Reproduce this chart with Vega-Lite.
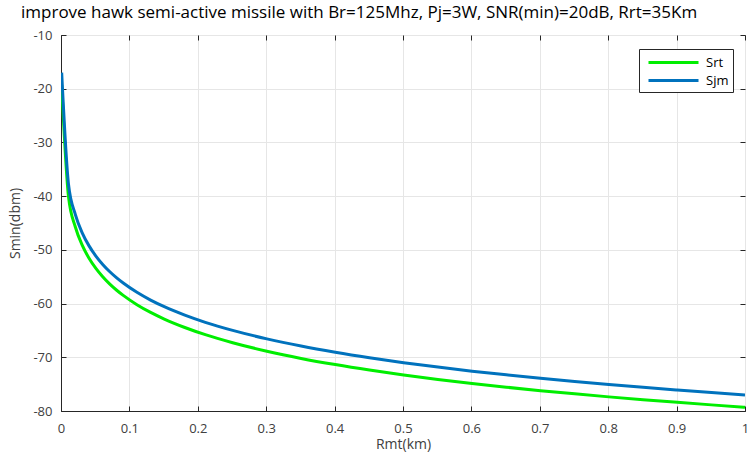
{
  "$schema": "https://vega.github.io/schema/vega-lite/v6.json",
  "width": 684,
  "height": 376,
  "autosize": {"type": "none"},
  "padding": {"left": 61, "top": 35, "right": 2, "bottom": 42},
  "background": "white",
  "title": {
    "text": "improve hawk semi-active missile with Br=125Mhz, Pj=3W, SNR(min)=20dB, Rrt=35Km",
    "anchor": "start",
    "frame": "group",
    "dx": -40,
    "offset": 7,
    "font": "Open Sans",
    "fontSize": 17,
    "fontWeight": "normal",
    "color": "#000000"
  },
  "config": {
    "view": {"stroke": "#262626", "strokeWidth": 1},
    "font": "Open Sans"
  },
  "data": {
    "values": [
      {"x": 0.001, "s": "Srt", "y": -19.3},
      {"x": 0.011, "s": "Srt", "y": -40.13},
      {"x": 0.021, "s": "Srt", "y": -45.74},
      {"x": 0.031, "s": "Srt", "y": -49.13},
      {"x": 0.041, "s": "Srt", "y": -51.56},
      {"x": 0.051, "s": "Srt", "y": -53.45},
      {"x": 0.061, "s": "Srt", "y": -55.01},
      {"x": 0.071, "s": "Srt", "y": -56.33},
      {"x": 0.081, "s": "Srt", "y": -57.47},
      {"x": 0.091, "s": "Srt", "y": -58.48},
      {"x": 0.111, "s": "Srt", "y": -60.21},
      {"x": 0.131, "s": "Srt", "y": -61.65},
      {"x": 0.151, "s": "Srt", "y": -62.88},
      {"x": 0.181, "s": "Srt", "y": -64.45},
      {"x": 0.211, "s": "Srt", "y": -65.79},
      {"x": 0.251, "s": "Srt", "y": -67.29},
      {"x": 0.301, "s": "Srt", "y": -68.87},
      {"x": 0.351, "s": "Srt", "y": -70.21},
      {"x": 0.401, "s": "Srt", "y": -71.36},
      {"x": 0.451, "s": "Srt", "y": -72.38},
      {"x": 0.501, "s": "Srt", "y": -73.30},
      {"x": 0.551, "s": "Srt", "y": -74.12},
      {"x": 0.601, "s": "Srt", "y": -74.88},
      {"x": 0.651, "s": "Srt", "y": -75.57},
      {"x": 0.701, "s": "Srt", "y": -76.21},
      {"x": 0.751, "s": "Srt", "y": -76.81},
      {"x": 0.801, "s": "Srt", "y": -77.37},
      {"x": 0.851, "s": "Srt", "y": -77.90},
      {"x": 0.901, "s": "Srt", "y": -78.39},
      {"x": 0.951, "s": "Srt", "y": -78.86},
      {"x": 1.0, "s": "Srt", "y": -79.3},
      {"x": 0.001, "s": "Sjm", "y": -17.0},
      {"x": 0.011, "s": "Sjm", "y": -37.83},
      {"x": 0.021, "s": "Sjm", "y": -43.44},
      {"x": 0.031, "s": "Sjm", "y": -46.83},
      {"x": 0.041, "s": "Sjm", "y": -49.26},
      {"x": 0.051, "s": "Sjm", "y": -51.15},
      {"x": 0.061, "s": "Sjm", "y": -52.71},
      {"x": 0.071, "s": "Sjm", "y": -54.03},
      {"x": 0.081, "s": "Sjm", "y": -55.17},
      {"x": 0.091, "s": "Sjm", "y": -56.18},
      {"x": 0.111, "s": "Sjm", "y": -57.91},
      {"x": 0.131, "s": "Sjm", "y": -59.35},
      {"x": 0.151, "s": "Sjm", "y": -60.58},
      {"x": 0.181, "s": "Sjm", "y": -62.15},
      {"x": 0.211, "s": "Sjm", "y": -63.49},
      {"x": 0.251, "s": "Sjm", "y": -64.99},
      {"x": 0.301, "s": "Sjm", "y": -66.57},
      {"x": 0.351, "s": "Sjm", "y": -67.91},
      {"x": 0.401, "s": "Sjm", "y": -69.06},
      {"x": 0.451, "s": "Sjm", "y": -70.08},
      {"x": 0.501, "s": "Sjm", "y": -71.00},
      {"x": 0.551, "s": "Sjm", "y": -71.82},
      {"x": 0.601, "s": "Sjm", "y": -72.58},
      {"x": 0.651, "s": "Sjm", "y": -73.27},
      {"x": 0.701, "s": "Sjm", "y": -73.91},
      {"x": 0.751, "s": "Sjm", "y": -74.51},
      {"x": 0.801, "s": "Sjm", "y": -75.07},
      {"x": 0.851, "s": "Sjm", "y": -75.60},
      {"x": 0.901, "s": "Sjm", "y": -76.09},
      {"x": 0.951, "s": "Sjm", "y": -76.56},
      {"x": 1.0, "s": "Sjm", "y": -77.0}
    ]
  },
  "layer": [
    {
      "mark": {"type": "line", "strokeWidth": 3, "interpolate": "monotone", "clip": true},
      "encoding": {
        "x": {
          "field": "x",
          "type": "quantitative",
          "scale": {"domain": [0, 1], "nice": false, "zero": false},
          "axis": {
            "title": "Rmt(km)",
            "values": [0, 0.1, 0.2, 0.3, 0.4, 0.5, 0.6, 0.7, 0.8, 0.9, 1],
            "labelExpr": "'' + datum.value",
            "tickSize": -5,
            "tickColor": "#262626",
            "domainColor": "#262626",
            "labelPadding": 16,
            "labelFontSize": 13,
            "labelColor": "#404040",
            "labelFont": "Open Sans",
            "titleFont": "Open Sans",
            "titleFontSize": 14,
            "titleFontWeight": "normal",
            "titleColor": "#404040",
            "titlePadding": 2,
            "gridColor": "#e6e6e6",
            "labelFlush": false,
            "labelOverlap": false
          }
        },
        "y": {
          "field": "y",
          "type": "quantitative",
          "scale": {"domain": [-80, -10], "nice": false, "zero": false},
          "axis": {
            "title": "Smin(dbm)",
            "values": [-80, -70, -60, -50, -40, -30, -20, -10],
            "labelExpr": "'' + datum.value",
            "tickSize": -5,
            "tickColor": "#262626",
            "domainColor": "#262626",
            "labelPadding": 14,
            "labelFontSize": 13,
            "labelColor": "#404040",
            "labelFont": "Open Sans",
            "titleFont": "Open Sans",
            "titleFontSize": 14,
            "titleFontWeight": "normal",
            "titleColor": "#404040",
            "titlePadding": 10,
            "gridColor": "#e6e6e6",
            "labelFlush": false,
            "labelOverlap": false
          }
        },
        "color": {
          "field": "s",
          "type": "nominal",
          "scale": {"domain": ["Srt", "Sjm"], "range": ["#00ee00", "#0072bd"]},
          "legend": {
            "title": null,
            "orient": "none",
            "legendX": 578,
            "legendY": 14,
            "symbolType": "M-0.5,0H5.75",
            "symbolStrokeWidth": 3,
            "symbolSize": 256,
            "labelFont": "Open Sans",
            "labelFontSize": 13,
            "labelColor": "#000000",
            "strokeColor": "#262626",
            "fillColor": "white",
            "padding": 4,
            "rowPadding": 1,
            "labelOffset": 44
          }
        }
      }
    },
    {
      "mark": {"type": "line", "opacity": 0},
      "encoding": {
        "x": {
          "field": "x",
          "type": "quantitative",
          "axis": {
            "orient": "top",
            "title": null,
            "labels": false,
            "grid": false,
            "domain": false,
            "values": [0, 0.1, 0.2, 0.3, 0.4, 0.5, 0.6, 0.7, 0.8, 0.9, 1],
            "tickSize": -5,
            "tickColor": "#262626"
          }
        },
        "y": {
          "field": "y",
          "type": "quantitative",
          "axis": {
            "orient": "right",
            "title": null,
            "labels": false,
            "grid": false,
            "domain": false,
            "values": [-80, -70, -60, -50, -40, -30, -20, -10],
            "tickSize": -5,
            "tickColor": "#262626"
          }
        },
        "detail": {"field": "s"}
      }
    }
  ],
  "resolve": {"axis": {"x": "independent", "y": "independent"}}
}
